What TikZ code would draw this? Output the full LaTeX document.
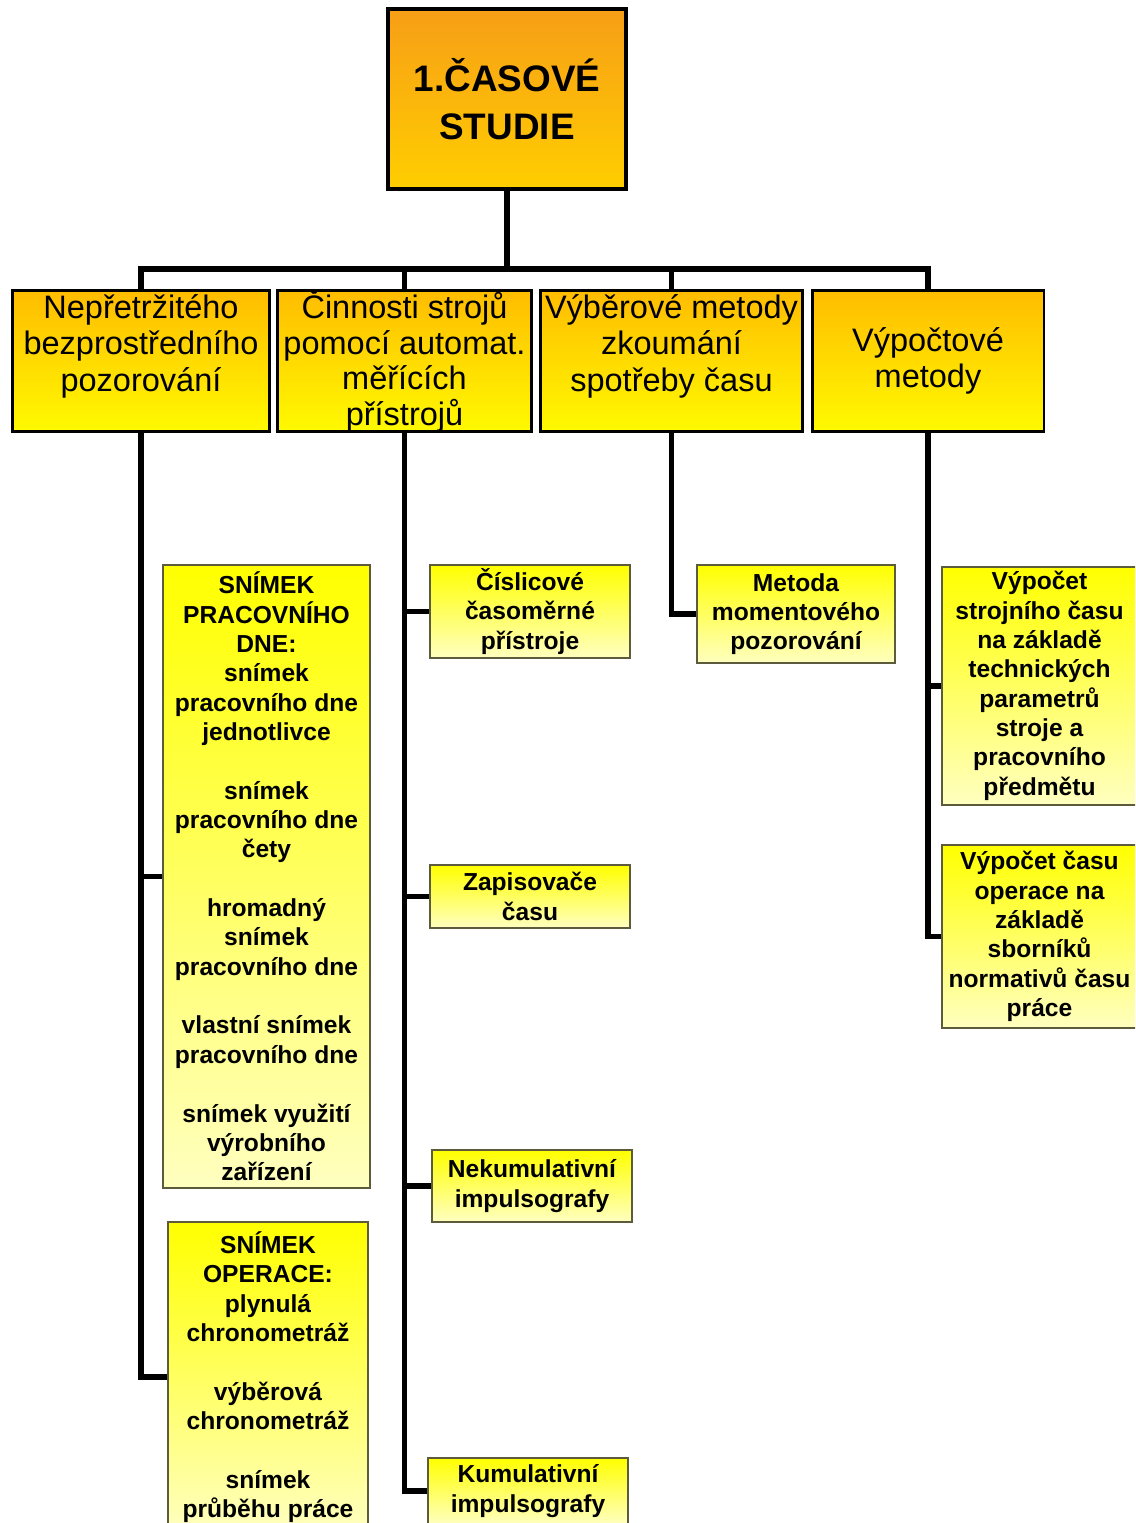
\documentclass[tikz,border=0pt]{standalone}
\usepackage{fontspec}
\setmainfont{Liberation Sans}
\definecolor{rootTop}{RGB}{247,158,22}
\definecolor{rootBot}{RGB}{255,206,0}
\definecolor{mainTop}{RGB}{255,188,0}
\definecolor{mainBot}{RGB}{255,250,0}
\definecolor{subTop}{RGB}{255,255,0}
\definecolor{subBot}{RGB}{255,255,192}
\definecolor{subLine}{RGB}{92,92,60}
\begin{document}
\begin{tikzpicture}[x=0.02cm, y=-0.02cm,
  conn/.style = {line width=3pt},
  rootbox/.style = {draw, line width=2.3pt, top color=rootTop,
    bottom color=rootBot, inner sep=0pt, align=center,
    font=\fontsize{21}{27}\selectfont\bfseries},
  mainbox/.style = {draw, line width=1.7pt, top color=mainTop,
    bottom color=mainBot, inner sep=0pt, align=center,
    minimum height=2.84cm, font=\fontsize{18.5}{20.8}\selectfont},
  subbox/.style = {draw=subLine, line width=1.1pt, top color=subTop,
    bottom color=subBot, inner sep=0pt, align=center,
    minimum width=4cm, font=\fontsize{14}{16.7}\selectfont\bfseries}]
  \useasboundingbox (0,0) rectangle (1135,1523);
  \clip (0,0) rectangle (1135,1523);

  \node[rootbox, minimum width=4.76cm, minimum height=3.6cm] (studie) at (507,99)
    {1.ČASOVÉ\\STUDIE};

  \node[mainbox, minimum width=5.16cm] (np) at (141,361)
    {Nepřetržitého\\bezprostředního\\pozorování\\ \mbox{}};
  \node[mainbox, minimum width=5.10cm, font=\fontsize{18.5}{20.2}\selectfont] (cs) at (404.5,361)
    {Činnosti strojů\\pomocí automat.\\měřících\\přístrojů};
  \node[mainbox, minimum width=5.26cm] (vm) at (671.5,361)
    {Výběrové metody\\zkoumání\\spotřeby času\\ \mbox{}};
  \node[mainbox, minimum width=4.64cm] (vp) at (928,361)
    {Výpočtové\\metody};

  \node[subbox, minimum width=4.14cm, minimum height=12.46cm] (pd) at (266.5,876.5)
    {SNÍMEK\\PRACOVNÍHO\\DNE:\\snímek\\pracovního dne\\jednotlivce\\[16.7pt]
     snímek\\pracovního dne\\čety\\[16.7pt]
     hromadný\\snímek\\pracovního dne\\[16.7pt]
     vlastní snímek\\pracovního dne\\[16.7pt]
     snímek využití\\výrobního\\zařízení};
  \node[subbox, minimum height=6.2cm] (op) at (268,1377)
    {SNÍMEK\\OPERACE:\\plynulá\\chronometráž\\[16.7pt]
     výběrová\\chronometráž\\[16.7pt]
     snímek\\průběhu práce};

  \node[subbox, minimum height=1.86cm] (cis) at (530,611.5)
    {Číslicové\\časoměrné\\přístroje};
  \node[subbox, minimum height=1.26cm] (zap) at (530,896.5)
    {Zapisovače\\času};
  \node[subbox, minimum height=1.44cm] (nek) at (532,1186)
    {Nekumulativní\\impulsografy};
  \node[subbox, minimum height=1.32cm] (kum) at (528,1491)
    {Kumulativní\\impulsografy};

  \node[subbox, minimum width=3.96cm, minimum height=1.96cm] (mom) at (796,614)
    {Metoda\\momentového\\pozorování};

  \node[subbox, minimum width=3.9cm, minimum height=4.76cm] (vst) at (1039.5,686)
    {Výpočet\\strojního času\\na základě\\technických\\parametrů\\stroje a\\pracovního\\předmětu};
  \node[subbox, minimum width=3.9cm, minimum height=3.66cm] (vcs) at (1039.5,936.5)
    {Výpočet času\\operace na\\základě\\sborníků\\normativů času\\práce};

  \foreach \n in {np,cs,vm,vp}
    \draw[conn] (studie.south) -- ++(0,78) -| (\n.north);
  \foreach \c in {pd,op}
    \draw[conn] (np.south) |- (\c.west);
  \foreach \c in {cis,zap,nek,kum}
    \draw[conn] (cs.south) |- (\c.west);
  \draw[conn] (vm.south) |- (mom.west);
  \foreach \c in {vst,vcs}
    \draw[conn] (vp.south) |- (\c.west);
\end{tikzpicture}
\end{document}
